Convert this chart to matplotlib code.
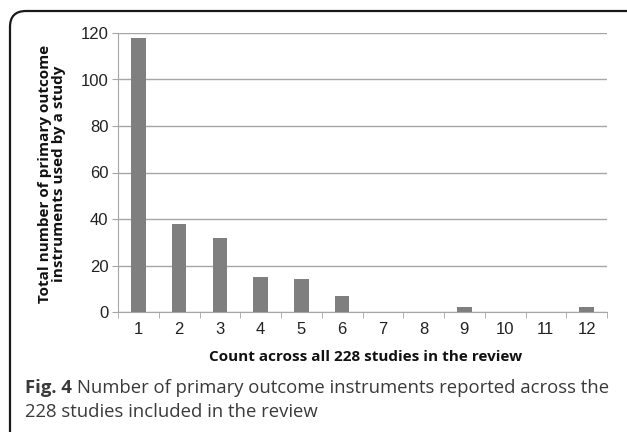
import matplotlib
matplotlib.use("Agg")
import matplotlib.pyplot as plt
from matplotlib.patches import FancyBboxPatch

# data
counts = ["1", "2", "3", "4", "5", "6", "7", "8", "9", "10", "11", "12"]
totals = [118, 38, 32, 15, 14, 7, 0, 0, 2, 0, 0, 2]
yticks = [0, 20, 40, 60, 80, 100, 120]

W, H = 627, 432
fig = plt.figure(figsize=(W / 100, H / 100), dpi=100)

# rounded frame round the figure (right and bottom run off the edge)
frame = FancyBboxPatch((10 / 100, -0.5), 8.0, (H - 11) / 100 + 0.5,
                       boxstyle="round,pad=0,rounding_size=0.16",
                       transform=fig.dpi_scale_trans, fill=False,
                       edgecolor="#1a1a1a", linewidth=1.6)
fig.patches.append(frame)

ax = fig.add_axes([118 / W, 1 - 312 / H, (607 - 118) / W, (312 - 33) / H])
x = list(range(len(counts)))
ax.bar(x, totals, width=0.35, color="#7f7f7f", zorder=3)

ax.set_xlim(-0.5, len(counts) - 0.5)
ax.set_ylim(0, 120)
ax.set_yticks(yticks)
ax.yaxis.grid(True, color="#a6a6a6", linewidth=1.0, zorder=0)
for s in ["top", "right"]:
    ax.spines[s].set_visible(False)
ax.spines["left"].set_color("#a6a6a6")
ax.spines["bottom"].set_color("#a6a6a6")

ax.set_xticks(x)
ax.set_xticklabels(counts)
ax.set_xticks([i - 0.5 for i in range(len(counts) + 1)], minor=True)
ax.tick_params(axis="x", which="major", length=0, pad=7)
ax.tick_params(axis="x", which="minor", length=4, color="#a6a6a6")
ax.tick_params(axis="y", length=4, color="#a6a6a6", pad=3)
for lab in ax.get_xticklabels() + ax.get_yticklabels():
    lab.set_fontfamily("Liberation Sans")
    lab.set_fontsize(12)
    lab.set_color("#222222")

fig.text(366 / W, 1 - 357 / H, "Count across all 228 studies in the review",
         ha="center", va="center", fontsize=11, fontweight="bold",
         family="Open Sans", color="#111111")
fig.text(52 / W, 1 - 174 / H,
         "Total number of primary outcome\ninstruments used by a study",
         ha="center", va="center", rotation=90, fontsize=11,
         fontweight="bold", family="Open Sans", color="#111111",
         linespacing=1.0)

# caption
renderer = fig.canvas.get_renderer()
t1 = fig.text(25 / W, 1 - 388 / H, "Fig. 4", ha="left", va="center",
              fontsize=13.3, fontweight="bold", family="Open Sans",
              color="#3a3a3a")
bb = t1.get_window_extent(renderer)
fig.text((bb.x1 + 5) / W, 1 - 388 / H,
         "Number of primary outcome instruments reported across the",
         ha="left", va="center", fontsize=13.3, family="Open Sans",
         color="#3a3a3a")
fig.text(25 / W, 1 - 412 / H, "228 studies included in the review",
         ha="left", va="center", fontsize=13.3, family="Open Sans",
         color="#3a3a3a")

fig.savefig("out.png", dpi=100)
